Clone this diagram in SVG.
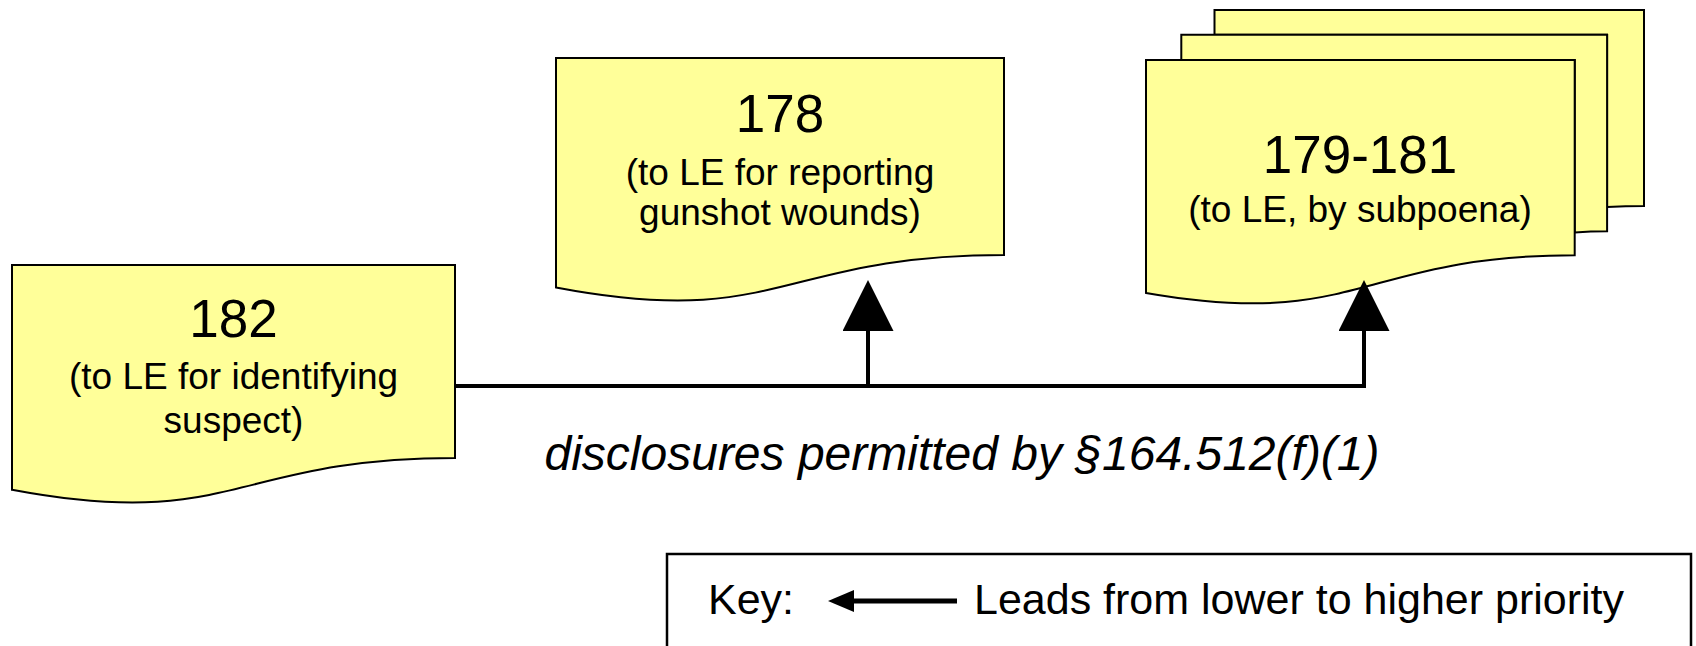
<svg xmlns="http://www.w3.org/2000/svg" width="1696" height="646" viewBox="0 0 1696 646">
  <style>
    .doc { fill: #FFFF99; stroke: #000; stroke-width: 2; stroke-linejoin: miter; }
    .num { font-family: "Liberation Sans", Arial, sans-serif; font-size: 53px; fill: #000; text-anchor: middle; }
    .sub { font-family: "Liberation Sans", Arial, sans-serif; font-size: 37px; fill: #000; text-anchor: middle; }
    .conn { fill: none; stroke: #000; stroke-width: 4; }
    .cap { font-family: "Liberation Sans", Arial, sans-serif; font-size: 48px; font-style: italic; fill: #000; text-anchor: middle; }
    .key { font-family: "Liberation Sans", Arial, sans-serif; font-size: 43px; fill: #000; }
  </style>
  <defs>
    <marker id="bigHead" markerUnits="userSpaceOnUse" markerWidth="51" markerHeight="51" viewBox="0 0 51 51" refX="0" refY="25.5" orient="auto">
      <path d="M0,0 L51,25.5 L0,51 Z" fill="#000"/>
    </marker>
    <marker id="keyHead" markerUnits="userSpaceOnUse" markerWidth="26" markerHeight="22" viewBox="0 0 26 22" refX="0" refY="11" orient="auto">
      <path d="M0,0 L26,11 L0,22 Z" fill="#000"/>
    </marker>
  </defs>

  <g id="node-182">
    <path class="doc" d="M12,265 H455 V458 C233.5,458 233.5,531.6 12,489.8 Z"/>
    <text class="num" x="233.5" y="337">182</text>
    <text class="sub" x="233.5" y="389">(to LE for identifying</text>
    <text class="sub" x="233.5" y="433">suspect)</text>
  </g>

  <g id="node-178">
    <path class="doc" d="M556,58 H1004 V255 C780,255 780,330 556,287.4 Z"/>
    <text class="num" x="780" y="132">178</text>
    <text class="sub" x="780" y="185">(to LE for reporting</text>
    <text class="sub" x="780" y="225">gunshot wounds)</text>
  </g>

  <g id="node-179-181">
    <path class="doc" d="M1214.5,34.7 V10 H1644 V205.9 C1625.6,205.9 1607.1,206.9 1607.1,206.9 V34.7 Z"/>
    <path class="doc" d="M1181.3,60 V34.7 H1607.1 V231.2 C1590.9,231.2 1574.7,232.6 1574.7,232.6 V60 Z"/>
    <path class="doc" d="M1146,292.9 C1360.4,330.4 1360.4,255.3 1574.7,255.3 V60 H1146 Z"/>
    <text class="num" x="1360" y="173">179-181</text>
    <text class="sub" x="1360" y="222">(to LE, by subpoena)</text>
  </g>

  <g id="connectors">
    <path class="conn" d="M455,386 H1364 V331" marker-end="url(#bigHead)"/>
    <path class="conn" d="M868,386 V331" marker-end="url(#bigHead)"/>
  </g>

  <g id="caption">
    <text class="cap" x="962" y="470">disclosures permitted by §164.512(f)(1)</text>
  </g>

  <g id="key">
    <rect x="667" y="554" width="1024" height="120" fill="#fff" stroke="#000" stroke-width="2.5"/>
    <text class="key" x="708" y="614">Key:</text>
    <path d="M957,601 H854" stroke="#000" stroke-width="5" fill="none" marker-end="url(#keyHead)"/>
    <text class="key" x="974" y="614">Leads from lower to higher priority</text>
  </g>
</svg>
